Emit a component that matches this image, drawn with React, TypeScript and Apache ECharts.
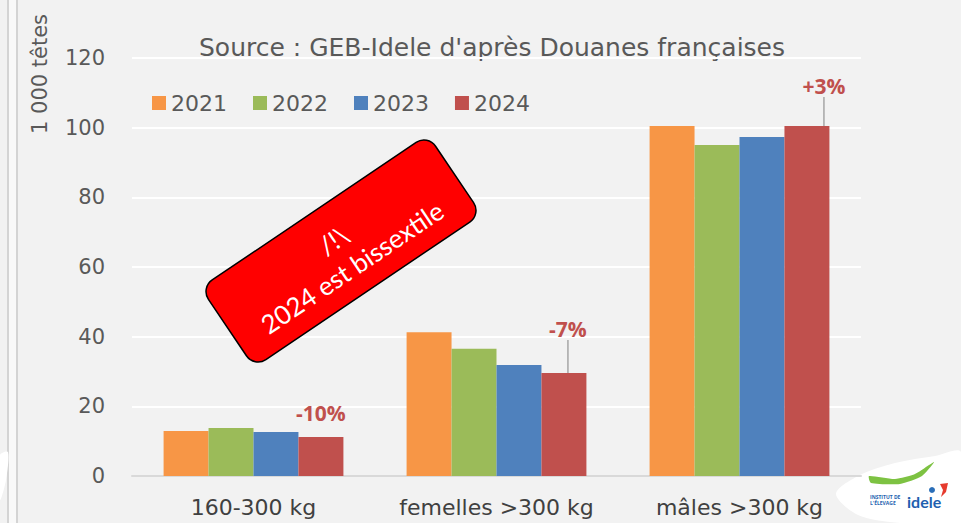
import React, { useEffect, useRef } from "react";
import * as echarts from "echarts";

const categories = ["160-300 kg", "femelles >300 kg", "mâles >300 kg"];
const years = ["2021", "2022", "2023", "2024"];
const values2021 = [12.9, 41.3, 100.5];
const values2022 = [13.8, 36.5, 95.0];
const values2023 = [12.6, 31.9, 97.3];
const values2024 = [11.2, 29.6, 100.5];
const changes2024 = ["-10%", "-7%", "+3%"];
const yTicks = { min: 0, max: 120, interval: 20 };

const colors = ["#F79646", "#9BBB59", "#4F81BD", "#C0504D"];
const FONT = "DejaVu Sans";
const GREY = "#595959";

export default function App() {
  const ref = useRef<HTMLDivElement>(null);
  useEffect(() => {
    if (!ref.current) return;
    const chart = echarts.init(ref.current, undefined, { renderer: "svg" });
    const allValues = [values2021, values2022, values2023, values2024];
    const labelShift = [
      { dx: 0, dy: -8 },
      { dx: 4, dy: -28 },
      { dx: 17, dy: -24 },
    ];
    const series: any[] = years.map((y, i) => ({
      name: y,
      type: "bar",
      barGap: "0%",
      barCategoryGap: "26%",
      itemStyle: { color: colors[i] },
      data:
        i === 3
          ? allValues[i].map((v, k) => ({
              value: v,
              label: {
                show: true,
                position: "top",
                distance: 5,
                formatter: () => changes2024[k],
                color: "#C0504D",
                fontWeight: "bold",
                fontSize: 21,
                fontFamily: "Open Sans",
              },
              labelLine: { show: k !== 0, lineStyle: { color: "#A6A6A6", width: 1.5 } },
            }))
          : allValues[i],
      labelLayout: i === 3 ? (p: any) => labelShift[p.dataIndex] : undefined,
    }));

    chart.setOption({
      animation: false,
      backgroundColor: "#F2F2F2",
      textStyle: { fontFamily: FONT },
      grid: { left: 132, right: 100, top: 58, bottom: 47, containLabel: false },
      legend: {
        data: years,
        left: 147,
        top: 87,
        icon: "rect",
        itemWidth: 14,
        itemHeight: 14,
        itemGap: 26,
        textStyle: { fontSize: 22, color: GREY, fontFamily: FONT },
      },
      xAxis: {
        type: "category",
        data: categories,
        axisLine: { show: true, lineStyle: { color: "#D9D9D9", width: 2 } },
        axisTick: { show: false },
        axisLabel: { color: "#404040", fontSize: 22, margin: 20, fontFamily: FONT, interval: 0 },
      },
      yAxis: {
        type: "value",
        min: yTicks.min,
        max: yTicks.max,
        interval: yTicks.interval,
        axisLine: { show: false },
        axisTick: { show: false },
        axisLabel: { color: GREY, fontSize: 21, margin: 27, fontFamily: FONT },
        splitLine: { lineStyle: { color: "#FFFFFF", width: 2 } },
      },
      series,
      graphic: [
        // left double border
        { type: "rect", shape: { x: 9, y: 0, width: 7, height: 523 }, style: { fill: "#F9F9F9" }, silent: true },
        { type: "line", shape: { x1: 8, y1: 0, x2: 8, y2: 523 }, style: { stroke: "#D4D4D4", lineWidth: 2 }, silent: true },
        { type: "line", shape: { x1: 17, y1: 0, x2: 17, y2: 523 }, style: { stroke: "#D4D4D4", lineWidth: 2 }, silent: true },
        // y axis name
        {
          type: "text",
          x: 40,
          y: 74,
          rotation: Math.PI / 2,
          style: {
            text: "1 000 têtes",
            fontSize: 21,
            fill: GREY,
            fontFamily: FONT,
            align: "center",
            verticalAlign: "middle",
          },
        },
        // source
        {
          type: "text",
          x: 492,
          y: 47,
          style: {
            text: "Source : GEB-Idele d'après Douanes françaises",
            fontSize: 25,
            fill: GREY,
            fontFamily: FONT,
            align: "center",
            verticalAlign: "middle",
          },
        },
        // red warning box
        {
          type: "group",
          x: 341,
          y: 251,
          z: 100,
          rotation: (34 * Math.PI) / 180,
          children: [
            {
              type: "rect",
              z: 100,
              shape: { x: -137, y: -48, width: 274, height: 96, r: 14 },
              style: { fill: "#FF0000", stroke: "#000000", lineWidth: 1.5 },
            },
            {
              type: "text",
              z: 101,
              x: 0,
              y: 3,
              style: {
                text: "/!\\\n2024 est bissextile",
                fontSize: 26,
                lineHeight: 33,
                fill: "#FFFFFF",
                fontFamily: "Lato",
                align: "center",
                verticalAlign: "middle",
              },
            },
          ],
        },
        // logo (bottom right)
        {
          type: "polygon",
          shape: {
            points: [
              [836, 494], [858, 476], [895, 463], [935, 456], [961, 452], [961, 523], [900, 523], [858, 515],
            ],
            smooth: 0.3,
          },
          style: { fill: "#FFFFFF" },
          silent: true,
        },
        {
          type: "polygon",
          shape: {
            points: [[869, 476], [895, 479], [915, 474], [934, 462], [922, 476], [900, 484], [871, 483]],
            smooth: 0.2,
          },
          style: { fill: "#7DC242" },
          silent: true,
        },
        {
          type: "polygon",
          shape: { points: [[940, 484], [948, 483], [946, 492], [941, 497], [943, 490]] },
          style: { fill: "#E63B2E" },
          silent: true,
        },
        { type: "circle", shape: { cx: 932, cy: 490, r: 3 }, style: { fill: "#2A6EB8" }, silent: true },
        {
          type: "text",
          x: 907,
          y: 501,
          style: { text: "idele", fontSize: 16, fontWeight: "bold", fill: "#1E5FAF", fontFamily: "Lato", align: "left", verticalAlign: "middle" },
          silent: true,
        },
        {
          type: "text",
          x: 870,
          y: 500,
          style: { text: "INSTITUT DE\nL'ÉLEVAGE", fontSize: 5, lineHeight: 6, fontWeight: "bold", fill: "#1E5FAF", fontFamily: "Open Sans", align: "left", verticalAlign: "middle" },
          silent: true,
        },
        // white shape bottom left
        {
          type: "polygon",
          shape: { points: [[0, 455], [8, 452], [6, 480], [0, 500]], smooth: 0.3 },
          style: { fill: "#FFFFFF" },
          silent: true,
        },
      ],
    });
    return () => chart.dispose();
  }, []);
  return (
    <div
      ref={ref}
      style={{ position: "fixed", left: 0, top: 0, width: 961, height: 523 }}
    />
  );
}
